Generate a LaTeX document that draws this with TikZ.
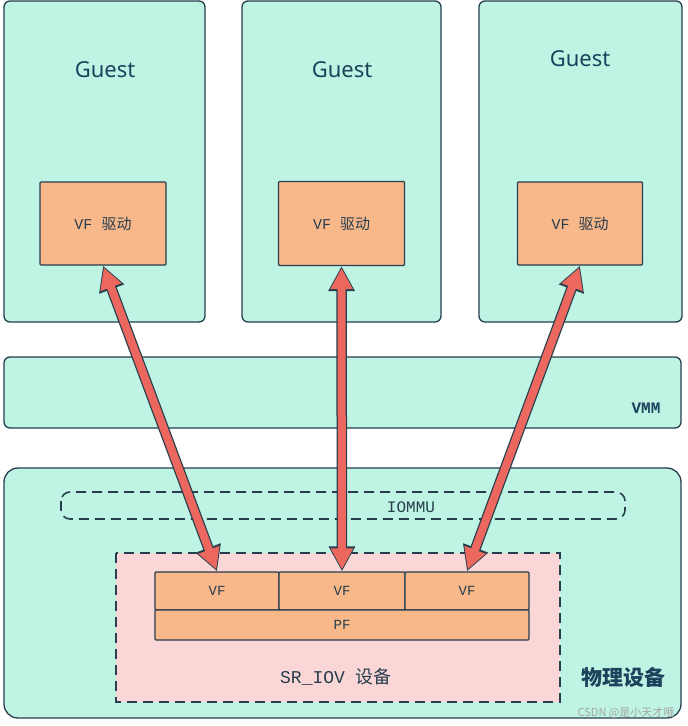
\documentclass[tikz,border=0pt]{standalone}
\usepackage{fontspec}
\usepackage{xcolor}
\usepackage{tikz}
\usetikzlibrary{arrows.meta}
\setmainfont{Liberation Mono}
\newfontfamily\cjk{Noto Sans CJK SC}
\newfontfamily\guestfont{Noto Sans}

\definecolor{mint}{RGB}{191,243,227}
\definecolor{edge}{RGB}{38,62,78}
\definecolor{drvorange}{RGB}{249,184,138}
\definecolor{devpink}{RGB}{251,214,214}
\definecolor{arrowred}{RGB}{236,104,94}
\definecolor{labelblue}{RGB}{28,66,92}

\tikzset{
  box/.style={draw=edge, line width=1.3pt, rounded corners=6pt},
  guest/.style={box, fill=mint},
  drv/.style={draw=edge, line width=1.3pt, fill=drvorange, rounded corners=1pt,
    inner sep=0pt, text=edge, font=\fontsize{15}{17}\selectfont},
  fn/.style={drv, font=\fontsize{14}{16}\selectfont},
  dashbox/.style={draw=edge, line width=1.6pt, dash pattern=on 10pt off 6pt},
  link/.style={draw=edge, line width=10.5pt,
    {Triangle[length=25pt,width=25pt]}-{Triangle[length=25pt,width=25pt]}},
  linkin/.style={draw=arrowred, line width=8pt, shorten <=2pt, shorten >=2pt,
    {Triangle[length=21pt,width=21pt]}-{Triangle[length=21pt,width=21pt]}}
}

\begin{document}
\begin{tikzpicture}[x=1pt,y=-1pt]

\fill[white] (0,0) rectangle (688,726);
\useasboundingbox (0,0) rectangle (688,726);

% three guests
\draw[guest] (4,1) rectangle (205,322);
\draw[guest] (242,1) rectangle (441,322);
\draw[guest] (479,1) rectangle (682,322);

\node[text=labelblue, font=\guestfont\fontsize{22}{26}\selectfont] (t1) at (105,70) {Guest};
\node[text=labelblue, font=\guestfont\fontsize{22}{26}\selectfont] (t2) at (342,70) {Guest};
\node[text=labelblue, font=\guestfont\fontsize{22}{26}\selectfont] (t3) at (580,59) {Guest};

\node[drv, minimum width=126pt, minimum height=83pt] (d1) at (103,223.5) {VF {\cjk 驱动}};
\node[drv, minimum width=126pt, minimum height=84pt] (d2) at (341.5,223.5) {VF {\cjk 驱动}};
\node[drv, minimum width=125pt, minimum height=83pt] (d3) at (580,223.5) {VF {\cjk 驱动}};

% VMM
\draw[box, fill=mint] (4,357) rectangle (681,428);
\node[text=labelblue, font=\bfseries\fontsize{16}{18}\selectfont] (vmm) at (646,408) {VMM};

% physical device
\draw[box, fill=mint, rounded corners=14pt] (4,718) rectangle (681,468);
\draw[dashbox, rounded corners=9pt] (61,492) rectangle (625,519);
\node[text=edge, font=\fontsize{16}{18}\selectfont] (iommu) at (411,507) {IOMMU};

% SR-IOV device
\draw[dashbox, fill=devpink] (116,553) rectangle (560,702);
\node[text=edge, font=\fontsize{18}{20}\selectfont] (sriov) at (336,677) {SR\_IOV {\cjk 设备}};
\node[text=labelblue, font=\cjk\bfseries\fontsize{21}{24}\selectfont] (phy) at (623,677) {物理设备};

\node[fn, minimum width=124pt, minimum height=38pt] (vf1) at (217,591) {VF};
\node[fn, minimum width=126pt, minimum height=38pt] (vf2) at (342,591) {VF};
\node[fn, minimum width=124pt, minimum height=38pt] (vf3) at (467,591) {VF};
\node[fn, minimum width=374pt, minimum height=30pt] (pf) at (342,625) {PF};

% arrows
\foreach \a/\b in {d1/vf1, d2/vf2, d3/vf3} {
  \draw[link] (\a.south) -- (\b.north);
  \draw[linkin] (\a.south) -- (\b.north);
}

\node[text=gray!70, font=\cjk\fontsize{11}{13}\selectfont] (wm) at (626,713) {CSDN @是小天才哦};

\end{tikzpicture}
\end{document}
